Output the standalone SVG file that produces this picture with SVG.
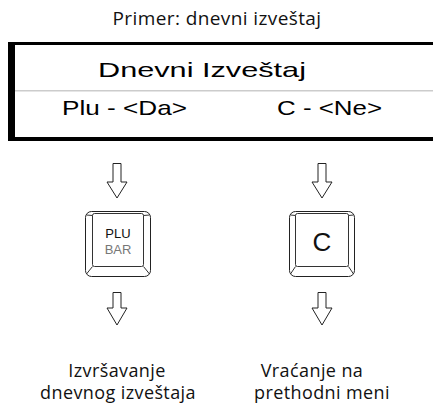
<svg xmlns="http://www.w3.org/2000/svg" width="433" height="405" viewBox="0 0 433 405">
<style>
.t{font-family:"Open Sans","Noto Sans",sans-serif;font-size:18px;letter-spacing:0.4px;fill:#111}
.lcd{font-family:"Liberation Sans",Arial,sans-serif;font-size:21px;fill:#000}
.key{fill:#fff;stroke:#222;stroke-width:1}
.face{fill:#fff;stroke:#333;stroke-width:1}
.arr{fill:#fff;stroke:#222;stroke-width:1;stroke-linejoin:miter}
</style>
<rect width="433" height="405" fill="#fff"/>
<g id="title"><text class="t" x="217" y="25" text-anchor="middle" style="font-size:19px">Primer: dnevni izveštaj</text></g>
<g id="lcd">
<rect x="8" y="42" width="430" height="3" fill="#000"/>
<rect x="8" y="137" width="430" height="4" fill="#000"/>
<rect x="8" y="42" width="7" height="99" fill="#000"/>
<rect x="15" y="90" width="420" height="1.5" fill="#ccc"/>
<text class="lcd" x="98" y="77" textLength="208" lengthAdjust="spacingAndGlyphs">Dnevni Izveštaj</text>
<text class="lcd" x="62" y="115" textLength="125" lengthAdjust="spacingAndGlyphs">Plu - &lt;Da&gt;</text>
<text class="lcd" x="277" y="115" textLength="105" lengthAdjust="spacingAndGlyphs">C - &lt;Ne&gt;</text>
</g>
<g id="key-plu">
<rect class="key" x="85.5" y="211.5" width="65" height="65" rx="6"/>
<rect class="face" x="92.5" y="213.5" width="51" height="53" rx="2"/>
<path d="M86.5,215 L92.5,215.5 M149.5,215 L143.5,215.5 M86.5,274 L92.5,266.5 M149.5,274 L143.5,266.5" stroke="#333" fill="none"/>
<text x="118" y="238" text-anchor="middle" font-family="Liberation Sans,Arial,sans-serif" font-size="13" fill="#111">PLU</text>
<text x="118" y="254" text-anchor="middle" font-family="Liberation Sans,Arial,sans-serif" font-size="13" fill="#777">BAR</text>
</g>
<g id="key-c">
<rect class="key" x="289.5" y="211.5" width="65" height="65" rx="6"/>
<rect class="face" x="295.5" y="213.5" width="53" height="53" rx="2"/>
<path d="M290.5,215 L295.5,215.5 M353.5,215 L348.5,215.5 M290.5,274 L295.5,266.5 M353.5,274 L348.5,266.5" stroke="#333" fill="none"/>
<text x="322" y="251" text-anchor="middle" font-family="Liberation Sans,Arial,sans-serif" font-size="26" fill="#111">C</text>
</g>
<g id="connectors">
<path class="arr" d="M113,163.5 H121 V182 H127 L117,198 L107,182 H113 Z"/>
<path class="arr" d="M113,292.5 H121 V308 H127 L117,325 L107,308 H113 Z"/>
<path class="arr" d="M318,163.5 H326 V182 H332 L322,198 L312,182 H318 Z"/>
<path class="arr" d="M318,292.5 H326 V308 H332 L322,325 L312,308 H318 Z"/>
</g>
<g id="label-left">
<text class="t" x="117" y="377" text-anchor="middle">Izvršavanje</text>
<text class="t" x="118" y="399" text-anchor="middle">dnevnog izveštaja</text>
</g>
<g id="label-right">
<text class="t" x="312" y="377" text-anchor="middle">Vraćanje na</text>
<text class="t" x="322" y="399" text-anchor="middle">prethodni meni</text>
</g>
</svg>
